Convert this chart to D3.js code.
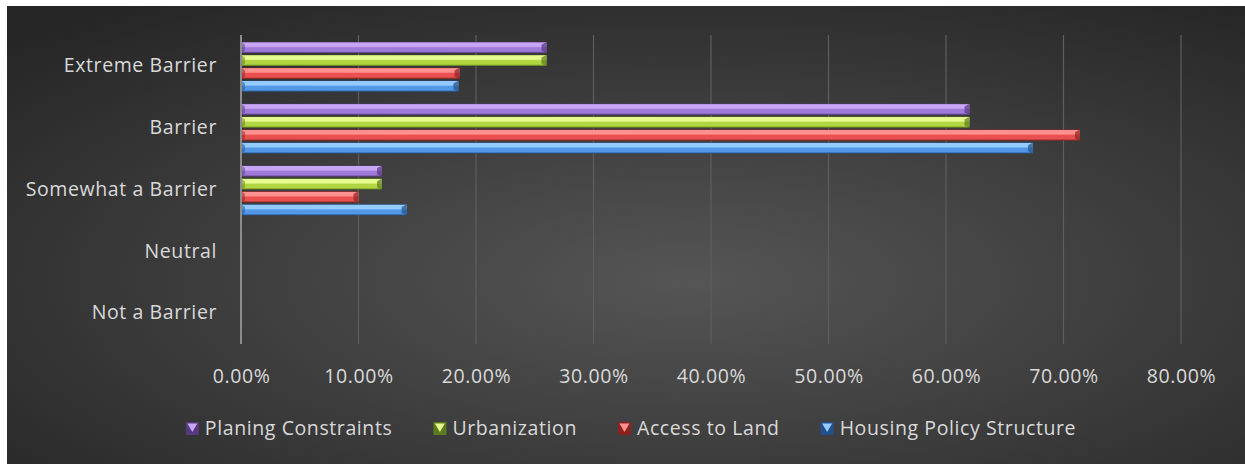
<!DOCTYPE html>
<html>
<head>
<meta charset="utf-8">
<script src="https://cdn.jsdelivr.net/npm/d3@7"></script>
<style>
  html, body { margin: 0; padding: 0; background: #ffffff; }
  svg { display: block; }
  text { font-family: "Open Sans", "Noto Sans", sans-serif; fill: #d9d9d9; letter-spacing: 0.6px; }
</style>
</head>
<body>
<svg id="chart" width="1245" height="464"></svg>
<script>
// Share of respondents rating each factor, per barrier level
const categories = ["Extreme Barrier", "Barrier", "Somewhat a Barrier", "Neutral", "Not a Barrier"];
const seriesNames = ["Planing Constraints", "Urbanization", "Access to Land", "Housing Policy Structure"];
const planingConstraints = [0.260, 0.620, 0.120, 0, 0];
const urbanization       = [0.260, 0.620, 0.120, 0, 0];
const accessToLand       = [0.186, 0.714, 0.100, 0, 0];
const housingPolicy      = [0.185, 0.674, 0.141, 0, 0];
const tickValues = [0, 0.1, 0.2, 0.3, 0.4, 0.5, 0.6, 0.7, 0.8];

const seriesValues = [planingConstraints, urbanization, accessToLand, housingPolicy];
const palette = [
  { light: "#c9a6f4", mid: "#a07ada", dark: "#55397e" },
  { light: "#e6fa90", mid: "#b2d642", dark: "#5e7a1e" },
  { light: "#ff9090", mid: "#ea5050", dark: "#8a2222" },
  { light: "#94cbff", mid: "#5298e6", dark: "#22508c" }
];
const FONT = 19.5;

const svg = d3.select("#chart");
const defs = svg.append("defs");

// dark radial backdrop
const bg = defs.append("radialGradient").attr("id", "bg")
  .attr("cx", "0.55").attr("cy", "0.6").attr("r", "0.75");
bg.append("stop").attr("offset", "0%").attr("stop-color", "#555555");
bg.append("stop").attr("offset", "100%").attr("stop-color", "#262626");
svg.append("rect").attr("x", 7).attr("y", 6).attr("width", 1238).attr("height", 458)
  .attr("fill", "url(#bg)");

// bevelled bar gradients
palette.forEach((c, i) => {
  const g = defs.append("linearGradient").attr("id", "bar" + i)
    .attr("x1", 0).attr("y1", 0).attr("x2", 0).attr("y2", 1);
  [[0, c.dark], [0.08, c.light], [0.4, c.light], [0.52, c.mid], [0.84, c.mid], [1, c.dark]]
    .forEach(([o, col]) => g.append("stop").attr("offset", o).attr("stop-color", col));
});

const x = d3.scaleLinear().domain([0, 0.8]).range([241, 1181]);
const y0 = d3.scaleBand().domain(categories).range([35, 344]);
const y1 = d3.scaleBand().domain(seriesNames)
  .range([y0.bandwidth() * 0.1, y0.bandwidth() * 0.93])
  .paddingInner(0.14).paddingOuter(0.06);

// vertical gridlines
svg.append("g").selectAll("line").data(tickValues.slice(1)).join("line")
  .attr("x1", d => x(d)).attr("x2", d => x(d))
  .attr("y1", 35).attr("y2", 344)
  .attr("stroke", "#5e5e5e").attr("stroke-width", 1.2);

// bars
const rows = [];
categories.forEach((cat, ci) => {
  seriesNames.forEach((s, si) => {
    rows.push({ cat, s, si, v: seriesValues[si][ci] });
  });
});
const bars = svg.append("g").selectAll("g").data(rows.filter(d => d.v > 0)).join("g")
  .attr("transform", d => `translate(0,${y0(d.cat) + y1(d.s)})`);
const h = y1.bandwidth();
bars.append("rect")
  .attr("x", x(0)).attr("y", 0)
  .attr("width", d => x(d.v) - x(0)).attr("height", h)
  .attr("fill", d => `url(#bar${d.si})`);
// end facets
bars.append("polygon")
  .attr("points", d => {
    const x1 = x(d.v);
    return `${x1 - 5},${h * 0.25} ${x1},0 ${x1},${h} ${x1 - 5},${h * 0.8}`;
  })
  .attr("fill", d => palette[d.si].dark).attr("opacity", 0.7);
bars.append("polygon")
  .attr("points", () => {
    const x0 = x(0);
    return `${x0},0 ${x0 + 4},${h * 0.25} ${x0 + 4},${h * 0.8} ${x0},${h}`;
  })
  .attr("fill", d => palette[d.si].dark).attr("opacity", 0.5);

// zero axis line
svg.append("line").attr("x1", x(0)).attr("x2", x(0)).attr("y1", 35).attr("y2", 344)
  .attr("stroke", "#8c8c8c").attr("stroke-width", 2);

// category axis
const yAxis = svg.append("g").attr("transform", `translate(${x(0)},0)`)
  .call(d3.axisLeft(y0).tickSize(0).tickPadding(24));
yAxis.select(".domain").remove();
yAxis.selectAll("text").attr("font-size", FONT).attr("fill", "#d9d9d9")
  .style("font-family", "'Open Sans', 'Noto Sans', sans-serif");

// value axis
const xAxis = svg.append("g").attr("transform", "translate(0,376)")
  .call(d3.axisBottom(x).tickValues(tickValues).tickFormat(d3.format(".2%")).tickSize(0).tickPadding(0));
xAxis.select(".domain").remove();
xAxis.selectAll("text").attr("font-size", FONT).attr("dy", "0.35em").attr("fill", "#d9d9d9")
  .style("font-family", "'Open Sans', 'Noto Sans', sans-serif");

// legend
const legend = svg.append("g");
const items = legend.selectAll("g").data(seriesNames).join("g");
items.append("text").attr("x", 19).attr("y", 428).attr("dy", "0.35em")
  .attr("font-size", FONT).text(d => d);
const widths = [];
items.each(function () {
  widths.push(19 + d3.select(this).select("text").node().getComputedTextLength());
});
const gap = 41;
const total = d3.sum(widths) + gap * (widths.length - 1);
let cursor = 631 - total / 2;
items.attr("transform", (d, i) => {
  const t = `translate(${cursor},0)`;
  cursor += widths[i] + gap;
  return t;
});
items.append("rect").attr("x", 0).attr("y", 422).attr("width", 13).attr("height", 13)
  .attr("fill", (d, i) => palette[i].dark);
items.append("polygon")
  .attr("points", "1.5,423.5 11.5,423.5 6.5,432")
  .attr("fill", (d, i) => palette[i].light);
</script>
</body>
</html>
